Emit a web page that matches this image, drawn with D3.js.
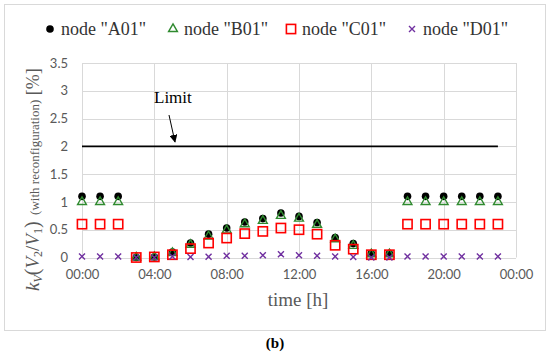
<!DOCTYPE html>
<html><head><meta charset="utf-8">
<script src="https://cdn.jsdelivr.net/npm/d3@7"></script>
<style>body{margin:0;background:#fff}</style>
</head><body>
<svg id="c" width="550" height="355"></svg>
<script>
const hours = [0,1,2,3,4,5,6,7,8,9,10,11,12,13,14,15,16,17,18,19,20,21,22,23];
const nodeA01 = [1.1,1.1,1.1,0.0,0.01,0.10,0.26,0.42,0.53,0.64,0.70,0.80,0.74,0.63,0.36,0.25,0.07,0.07,1.1,1.1,1.1,1.1,1.1,1.1];
const nodeB01 = [1.0,1.0,1.0,0.0,0.01,0.08,0.23,0.38,0.49,0.60,0.66,0.75,0.70,0.59,0.33,0.21,0.06,0.06,1.0,1.0,1.0,1.0,1.0,1.0];
const nodeC01 = [0.6,0.6,0.6,0.0,0.01,0.05,0.16,0.26,0.35,0.43,0.47,0.53,0.50,0.42,0.22,0.15,0.05,0.05,0.6,0.6,0.6,0.6,0.6,0.6];
const nodeD01 = [0.02,0.02,0.02,0.0,0.0,0.02,0.01,0.015,0.03,0.03,0.04,0.06,0.04,0.03,0.02,0.01,0.0,0.0,0.02,0.02,0.02,0.02,0.02,0.02];
const limitValue = 2;
const xTickValues = [0,4,8,12,16,20,24];
const xTickLabels = ["00:00","04:00","08:00","12:00","16:00","20:00","00:00"];
const yTickValues = [0,0.5,1,1.5,2,2.5,3,3.5];
const yTickLabels = ["0","0.5","1","1.5","2","2.5","3","3.5"];
const seriesNames = ['node "A01"','node "B01"','node "C01"','node "D01"'];

const svg = d3.select("#c");
const serif = "'Liberation Serif', 'DejaVu Serif', serif";
const sans = "Lato, 'Open Sans', sans-serif";
const gray = "#595959";
const green = "#2f8a2f", red = "#ff0000", purple = "#7030a0";

// frame
svg.append("rect").attr("x",4.5).attr("y",4.5).attr("width",541).attr("height",326)
  .attr("fill","#fff").attr("stroke","#d9d9d9").attr("stroke-width",1);

const x = d3.scaleLinear().domain([0,24]).range([82,516]);
const y = d3.scaleLinear().domain([0,3.5]).range([257.5,63]);

// gridlines
const g = svg.append("g");
g.selectAll("line.h").data(yTickValues).join("line")
  .attr("x1",x(0)).attr("x2",x(24)).attr("y1",d=>Math.round(y(d))+0.5).attr("y2",d=>Math.round(y(d))+0.5)
  .attr("stroke","#d9d9d9").attr("stroke-width",1);
g.selectAll("line.v").data(xTickValues).join("line")
  .attr("y1",y(0)).attr("y2",y(3.5)).attr("x1",d=>Math.round(x(d))+0.5).attr("x2",d=>Math.round(x(d))+0.5)
  .attr("stroke","#d9d9d9").attr("stroke-width",1);

// axes (labels only)
const xAxis = d3.axisBottom(x).tickValues(xTickValues).tickSize(0).tickPadding(12)
  .tickFormat((d,i)=>xTickLabels[i]);
const gx = svg.append("g").attr("transform",`translate(0,${y(0)})`).call(xAxis);
gx.select(".domain").remove();
gx.selectAll("text").attr("font-family",sans).attr("font-size",13).attr("fill",gray);

const yAxis = d3.axisLeft(y).tickValues(yTickValues).tickSize(0).tickPadding(14)
  .tickFormat((d,i)=>yTickLabels[i]);
const gy = svg.append("g").attr("transform",`translate(${x(0)},0)`).call(yAxis);
gy.select(".domain").remove();
gy.selectAll("text").attr("font-family",sans).attr("font-size",13).attr("fill",gray);

// limit line
svg.append("path").datum(hours)
  .attr("d", d3.line().x(d=>x(d)).y(()=>y(limitValue)))
  .attr("stroke","#000").attr("stroke-width",1.6).attr("fill","none");

// Limit annotation
svg.append("text").attr("x",154).attr("y",103).text("Limit")
  .attr("font-family",serif).attr("font-size",17).attr("fill","#000");
svg.append("defs").append("marker").attr("id","ah").attr("viewBox","0 0 10 10")
  .attr("refX",9).attr("refY",5).attr("markerWidth",8).attr("markerHeight",8).attr("orient","auto")
  .attr("markerUnits","userSpaceOnUse")
  .append("path").attr("d","M0,0 L10,5 L0,10 Z").attr("fill","#000");
svg.append("line").attr("x1",169).attr("y1",115).attr("x2",175).attr("y2",142)
  .attr("stroke","#000").attr("stroke-width",1).attr("marker-end","url(#ah)");

const pts = (vals)=>hours.map((h,i)=>({h,v:vals[i]}));

// markers
const triPath = d3.symbol().type(d3.symbolTriangle).size(34);
function drawCircle(sel){ sel.append("circle").attr("r",3.8).attr("fill","#000"); }
function drawTri(sel){ sel.append("path").attr("d",triPath()).attr("fill","none").attr("stroke",green).attr("stroke-width",1.4); }
function drawSq(sel){ sel.append("rect").attr("x",-4.6).attr("y",-4.6).attr("width",9.2).attr("height",9.2).attr("fill","none").attr("stroke",red).attr("stroke-width",1.6); }
function drawX(sel){ sel.append("path").attr("d","M-3,-3L3,3M-3,3L3,-3").attr("stroke",purple).attr("stroke-width",1.4).attr("fill","none"); }

const drawers = [drawCircle, drawTri, drawSq, drawX];
[nodeA01,nodeB01,nodeC01,nodeD01].forEach((vals,k)=>{
  svg.append("g").selectAll("g").data(pts(vals)).join("g")
    .attr("transform",d=>`translate(${x(d.h)},${y(d.v)})`)
    .each(function(){ drawers[k](d3.select(this)); });
});

// legend
const legX = [50,173,291,412];
seriesNames.forEach((name,k)=>{
  const lg = svg.append("g").attr("transform",`translate(${legX[k]},29)`);
  drawers[k](lg);
  lg.append("text").attr("x",11).attr("y",6).text(name)
    .attr("font-family",serif).attr("font-size",18).attr("fill","#333");
});

// x-axis title
svg.append("text").attr("x",298).attr("y",306).attr("text-anchor","middle").text("time [h]")
  .attr("font-family",serif).attr("font-size",19).attr("fill",gray);

// y-axis title
const yt = svg.append("text").attr("transform","translate(39,291) rotate(-90)")
  .attr("font-family",serif).attr("fill",gray);
yt.append("tspan").attr("font-size",19).attr("font-style","italic").text("k");
yt.append("tspan").attr("font-size",12).attr("font-style","italic").attr("dy",3).text("V");
yt.append("tspan").attr("font-size",20).attr("dy",-3).text("(");
yt.append("tspan").attr("font-size",19).attr("font-style","italic").text("V");
yt.append("tspan").attr("font-size",12).attr("dy",3).text("2");
yt.append("tspan").attr("font-size",19).attr("dy",-3).text("/");
yt.append("tspan").attr("font-size",19).attr("font-style","italic").text("V");
yt.append("tspan").attr("font-size",12).attr("dy",3).text("1");
yt.append("tspan").attr("font-size",20).attr("dy",-3).text(")");
yt.append("tspan").attr("font-size",13).text("\u00a0\u00a0(with reconfiguration)");
yt.append("tspan").attr("font-size",18).text("\u00a0[%]");

// caption
svg.append("text").attr("x",275).attr("y",348).attr("text-anchor","middle").text("(b)")
  .attr("font-family",serif).attr("font-size",15).attr("font-weight","bold").attr("fill","#000");
</script>
</body></html>
